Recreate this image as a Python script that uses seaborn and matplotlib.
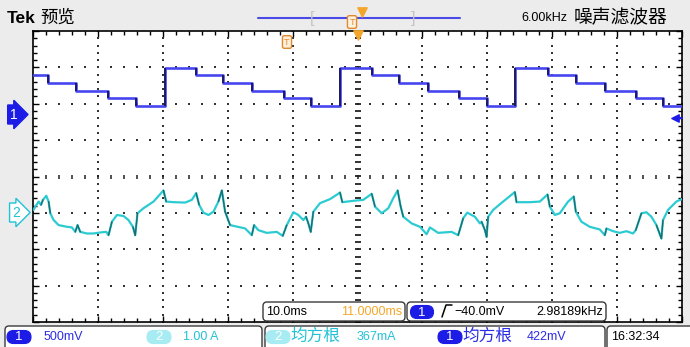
import numpy as np
import pandas as pd
import matplotlib
matplotlib.use("Agg")
import matplotlib.pyplot as plt
from matplotlib.patches import FancyBboxPatch
from matplotlib.ticker import MultipleLocator
import seaborn as sns

# ---- Channel 1: staircase voltage (segment start time in ms, level in V) ----
ch1_time = [0.0, 2.31, 6.63, 11.56, 15.87, 20.34, 25.12, 29.28, 33.74, 38.67, 42.84,
            47.30, 52.23, 56.39, 60.86, 65.64, 69.95, 74.27, 79.35, 83.67, 88.14,
            92.91, 97.07, 100.0]
ch1_volts = [0.54, 0.43, 0.32, 0.22, 0.12, 0.64, 0.54, 0.43, 0.32, 0.22, 0.12,
             0.64, 0.54, 0.43, 0.32, 0.22, 0.12, 0.64, 0.54, 0.43, 0.32,
             0.22, 0.12, 0.12]

# ---- Channel 2: current (time in ms, current in A) ----
ch2_time = [0.05, 0.31, 0.82, 1.19, 1.49, 2.00, 2.36, 2.62, 3.13, 3.90, 5.19, 5.96,
            6.47, 6.83, 7.24, 8.27, 9.29, 10.32, 11.25, 11.60, 12.13, 12.90, 13.91,
            14.68, 15.36, 15.72, 16.07, 17.00, 18.54, 20.08, 20.49, 21.62, 23.42,
            24.45, 25.12, 25.58, 26.24, 27.01, 27.78, 28.55, 29.08, 29.58, 30.35,
            32.67, 33.70, 34.05, 34.71, 36.01, 37.55, 38.47, 39.09, 40.11, 40.88,
            41.65, 42.06, 42.42, 42.79, 43.19, 44.22, 45.76, 46.79, 47.30, 47.66,
            49.35, 50.89, 52.19, 52.70, 53.73, 54.75, 55.52, 56.19, 56.66, 57.06,
            58.35, 59.63, 60.66, 61.17, 62.45, 64.51, 65.53, 66.30, 66.92, 68.10,
            68.88, 69.14, 69.65, 69.91, 70.15, 70.92, 72.46, 74.27, 74.53, 76.58,
            78.12, 79.31, 79.66, 80.43, 81.20, 82.48, 83.36, 83.67, 84.54, 85.82,
            87.37, 88.14, 88.40, 89.41, 90.45, 91.48, 92.50, 92.91, 93.79, 94.56,
            95.33, 96.10, 96.87, 97.12, 97.89, 99.18, 100.0]
ch2_amps = [0.056, 0.147, 0.286, 0.194, 0.333, 0.444, 0.286, -0.036, -0.222, -0.361,
            -0.408, -0.425, -0.547, -0.361, -0.547, -0.592, -0.592, -0.564, -0.547,
            -0.639, -0.269, -0.083, -0.111, -0.222, -0.408, -0.639, -0.036, 0.103,
            0.286, 0.592, 0.286, 0.269, 0.258, 0.333, 0.519, 0.194, -0.019, -0.083,
            0.008, 0.286, 0.592, 0.008, -0.361, -0.453, -0.639, -0.361, -0.500,
            -0.575, -0.547, -0.658, -0.361, -0.008, -0.083, -0.222, -0.131, -0.314,
            -0.547, 0.008, 0.242, 0.353, 0.472, 0.536, 0.269, 0.306, 0.333, 0.500,
            0.147, -0.036, 0.103, 0.381, 0.592, 0.147, -0.131, -0.314, -0.408,
            -0.611, -0.425, -0.575, -0.547, -0.639, -0.175, -0.019, -0.131, -0.314,
            -0.269, -0.500, -0.686, -0.131, 0.056, 0.286, 0.547, 0.269, 0.269,
            0.286, 0.481, 0.147, -0.083, -0.036, 0.286, 0.425, 0.008, -0.269,
            -0.408, -0.481, -0.639, -0.453, -0.528, -0.575, -0.528, -0.592, -0.500,
            -0.036, -0.008, -0.131, -0.361, -0.731, -0.222, 0.056, 0.286, 0.353]

# vertical scale (units per division) and ground position (divisions from center)
CH1_SCALE, CH1_POS = 0.5, 1.71
CH2_SCALE, CH2_POS = 1.0, -0.975

BLUE = "#4646f0"
BLUE_DARK = "#16165c"
CYAN = "#2ccbd2"
CYAN_DARK = "#1b6d70"
BADGE_BLUE = "#1c1ce6"
BADGE_CYAN = "#a6ecf2"
TXT_BLUE = "#2b2be6"
TXT_CYAN = "#22c2d6"
ORANGE = "#f4a62a"
CJK = ["Noto Sans CJK SC", "DejaVu Sans"]

sns.set_theme(style="white")
plt.rcParams["font.family"] = ["Liberation Sans", "DejaVu Sans", "Noto Sans CJK SC"]
plt.rcParams["axes.unicode_minus"] = False

W, H = 690, 347
fig = plt.figure(figsize=(W / 100, H / 100), dpi=100, facecolor="#ececec")

# graticule area
ax = fig.add_axes([33.3 / W, 1 - 322 / H, (681.7 - 33.3) / W, (322 - 31) / H])
ax.set_facecolor("white")
ax.set_xlim(0, 100)
ax.set_ylim(-4, 4)
for sp in ax.spines.values():
    sp.set_color("black")
    sp.set_linewidth(1.2)
ax.xaxis.set_major_locator(MultipleLocator(10))
ax.xaxis.set_minor_locator(MultipleLocator(2))
ax.yaxis.set_major_locator(MultipleLocator(1))
ax.yaxis.set_minor_locator(MultipleLocator(0.2))
ax.tick_params(which="both", direction="in", top=True, right=True, bottom=True, left=True,
               labelbottom=False, labelleft=False, color="black", width=1)
ax.tick_params(which="major", length=4.5)
ax.tick_params(which="minor", length=3)

# dotted division lines
sub_y = np.arange(-4, 4.001, 0.2)
sub_x = np.arange(0, 100.001, 2)
dot_kw = dict(s=2.0, marker="s", color="#333333", linewidths=0, zorder=1)
for gx in range(10, 100, 10):
    if gx != 50:
        ax.scatter(np.full_like(sub_y, gx), sub_y, **dot_kw)
for gy in range(-3, 4):
    if gy != 0:
        ax.scatter(sub_x, np.full_like(sub_x, gy, dtype=float), **dot_kw)
# center cross with tick marks
ax.scatter(np.full_like(sub_y, 50), sub_y, marker="_", s=14, color="#222222", linewidths=1.3, zorder=1)
ax.scatter(sub_x, np.zeros_like(sub_x), marker="|", s=10, color="#222222", linewidths=1.1, zorder=1)

# channel 1 trace
df1 = pd.DataFrame({"t": ch1_time, "div": np.array(ch1_volts) / CH1_SCALE + CH1_POS})
sns.lineplot(data=df1, x="t", y="div", ax=ax, drawstyle="steps-post", color=BLUE,
             lw=1.9, estimator=None, sort=False, zorder=3)
ax.vlines(df1["t"].values[1:-1], df1["div"].values[:-2], df1["div"].values[1:-1],
          color=BLUE_DARK, lw=1.3, zorder=4)

# channel 2 trace
df2 = pd.DataFrame({"t": ch2_time, "div": np.array(ch2_amps) / CH2_SCALE + CH2_POS})
sns.lineplot(data=df2, x="t", y="div", ax=ax, color=CYAN, lw=1.6,
             estimator=None, sort=False, zorder=3)
tv, dv = df2["t"].values, df2["div"].values
for i in range(len(tv) - 1):
    slope = (dv[i + 1] - dv[i]) / (tv[i + 1] - tv[i])
    if abs(slope) > 0.45:
        ax.plot(tv[i:i + 2], dv[i:i + 2], color=CYAN_DARK, lw=1.0, zorder=4)
ax.set_xlabel("")
ax.set_ylabel("")

# ---- overlay in pixel coordinates for the readouts ----
ov = fig.add_axes([0, 0, 1, 1], zorder=5)
ov.set_xlim(0, W)
ov.set_ylim(H, 0)
ov.axis("off")
ov.patch.set_alpha(0)


def box(x, y, w, h, r=4, fc="white", ec="#3a3a3a", lw=1.0):
    ov.add_patch(FancyBboxPatch((x, y), w, h, boxstyle=f"round,pad=0,rounding_size={r}",
                                fc=fc, ec=ec, lw=lw))


def badge(cx, cy, label, fc, w=24, h=13):
    ov.add_patch(FancyBboxPatch((cx - w / 2, cy - h / 2), w, h,
                                boxstyle="round,pad=0,rounding_size=6.5", fc=fc, ec=fc, lw=0.8))
    ov.text(cx, cy + 0.5, label, color="white", fontsize=9.5, ha="center", va="center")


FS = 9

# header
ov.text(7, 18, "Tek", fontsize=12.5, fontweight="bold", color="black", va="center")
ov.text(40, 18, "预览", fontsize=12.5, color="black", va="center", family=CJK)
ov.plot([258, 460], [18, 18], color="#4a4ae6", lw=1.5)
ov.text(312, 18, "[", fontsize=12, color="#c4c4c4", ha="center", va="center")
ov.text(413, 18, "]", fontsize=12, color="#c4c4c4", ha="center", va="center")
ov.scatter([362], [12], marker="v", s=45, color=ORANGE, zorder=6)
ov.text(352, 22, "T", fontsize=6.5, color="#e08a30", ha="center", va="center",
        bbox=dict(boxstyle="round,pad=0.2", fc="#fff1dc", ec="#e08a30", lw=1))
ov.text(567, 18, "6.00kHz", fontsize=FS, color="black", ha="right", va="center")
ov.text(574, 18, "噪声滤波器", fontsize=13.5, color="black", va="center", family=CJK)

# trigger position markers inside graticule
ov.scatter([357.5], [35], marker="v", s=45, color=ORANGE, zorder=6)
ov.text(287, 42, "T", fontsize=6.5, color="#e08a30", ha="center", va="center",
        bbox=dict(boxstyle="round,pad=0.2", fc="#fff1dc", ec="#e08a30", lw=1))

# channel ground markers
ov.text(14, 114.5, "1", color="white", fontsize=10, ha="center", va="center",
        bbox=dict(boxstyle="rarrow,pad=0.18", fc=BADGE_BLUE, ec=BADGE_BLUE))
ov.text(16, 212.5, "2", color=TXT_CYAN, fontsize=10, ha="center", va="center",
        bbox=dict(boxstyle="rarrow,pad=0.18", fc="white", ec=TXT_CYAN, lw=1))
ov.scatter([675], [118], marker="<", s=28, color=BADGE_BLUE, zorder=6)
ov.plot([675, 682], [118, 118], color=BADGE_BLUE, lw=1.6)

# readout boxes at the bottom of the graticule
box(263, 302, 142, 19)
box(407, 302, 199, 19)
ov.text(266, 312, "10.0ms", fontsize=FS, color="black", va="center")
ov.text(402, 312, "11.0000ms", fontsize=FS, color=ORANGE, ha="right", va="center")
badge(422, 312, "1", BADGE_BLUE, w=23, h=13)
ov.plot([442, 446, 452], [317, 305, 305], color="black", lw=1.1)
ov.text(454, 312, "−40.0mV", fontsize=FS, color="black", va="center")
ov.text(603, 312, "2.98189kHz", fontsize=FS, color="black", ha="right", va="center")

# status row
box(5, 326, 257, 30)
box(265, 326, 340, 30)
box(607, 326, 90, 30)
badge(19, 337, "1", BADGE_BLUE)
ov.text(44, 337, "500mV", fontsize=FS, color=TXT_BLUE, va="center")
badge(159, 337, "2", BADGE_CYAN)
ov.text(183, 337, "1.00 A", fontsize=FS, color=TXT_CYAN, va="center")
badge(278, 337, "2", BADGE_CYAN)
ov.text(290, 336.5, "均方根", fontsize=12, color=TXT_CYAN, va="center", family=CJK)
ov.text(357, 337, "367mA", fontsize=FS, color=TXT_CYAN, va="center")
badge(450, 337, "1", BADGE_BLUE)
ov.text(462, 336.5, "均方根", fontsize=12, color=TXT_BLUE, va="center", family=CJK)
ov.text(527, 337, "422mV", fontsize=FS, color=TXT_BLUE, va="center")
ov.text(611, 337, "16:32:34", fontsize=FS, color="black", va="center")

fig.savefig("out.png", dpi=100, facecolor=fig.get_facecolor())
